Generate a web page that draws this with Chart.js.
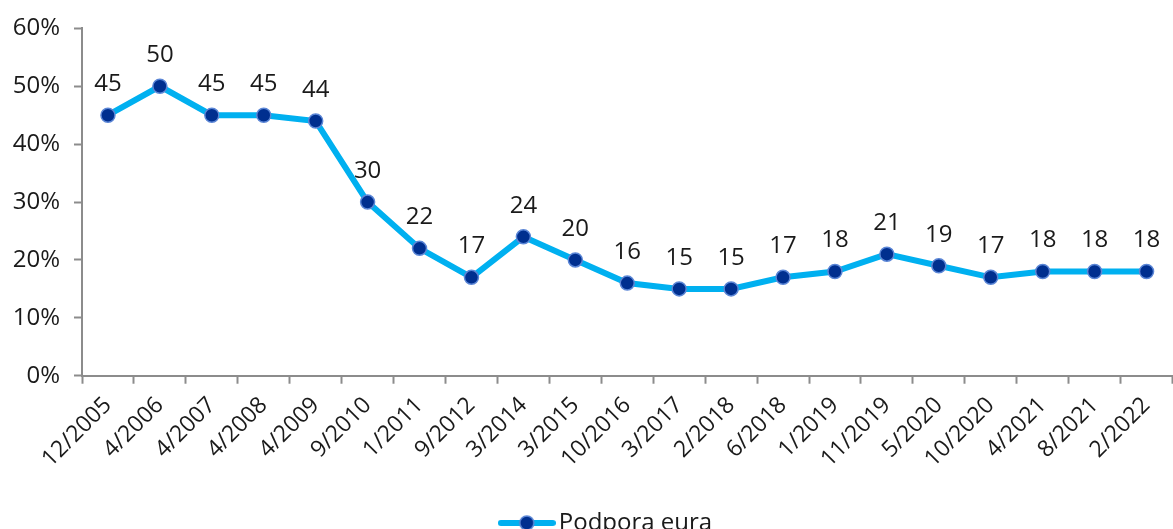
<!DOCTYPE html>
<html>
<head>
<meta charset="utf-8">
<script src="https://cdn.jsdelivr.net/npm/chart.js@4.4.0/dist/chart.umd.min.js"></script>
<style>
  html, body { margin: 0; padding: 0; background: #fff; overflow: hidden; }
  #wrap { width: 1181px; height: 545px; }
</style>
</head>
<body>
<div id="wrap"><canvas id="euroChart"></canvas></div>
<script>
// data
const periods = ['12/2005', '4/2006', '4/2007', '4/2008', '4/2009', '9/2010', '1/2011', '9/2012', '3/2014', '3/2015',
    '10/2016', '3/2017', '2/2018', '6/2018', '1/2019', '11/2019', '5/2020', '10/2020', '4/2021', '8/2021', '2/2022'];
const support = [45, 50, 45, 45, 44, 30, 22, 17, 24, 20, 16, 15, 15, 17, 18, 21, 19, 17, 18, 18, 18];
const yTicks = [0, 10, 20, 30, 40, 50, 60];

const fontFamily = "'Open Sans', 'Noto Sans', sans-serif";
const axisColor = '#8c8c8c';

// legend marker: line with a dot, like the excel one
const legendIcon = document.createElement('canvas');
legendIcon.width = 58;
legendIcon.height = 18;
(function () {
    const c = legendIcon.getContext('2d');
    c.strokeStyle = '#00b0f0';
    c.lineWidth = 6;
    c.lineCap = 'round';
    c.beginPath();
    c.moveTo(3, 9);
    c.lineTo(55, 9);
    c.stroke();
    c.beginPath();
    c.arc(29, 9, 7, 0, Math.PI * 2);
    c.fillStyle = '#002f8f';
    c.fill();
    c.lineWidth = 1.5;
    c.strokeStyle = '#5b86d6';
    c.stroke();
})();

// value labels above points
const valueLabels = {
    id: 'valueLabels',
    afterDatasetsDraw(chart) {
        const c = chart.ctx;
        const meta = chart.getDatasetMeta(0);
        c.save();
        c.font = '24px ' + fontFamily;
        c.fillStyle = '#1a1a1a';
        c.textAlign = 'center';
        c.textBaseline = 'middle';
        meta.data.forEach((pt, i) => {
            c.fillText(String(support[i]), pt.x, pt.y - 31);
        });
        c.restore();
    }
};

// legend sits a bit right of the center in the original
const nudgeLegend = {
    id: 'nudgeLegend',
    afterLayout(chart) {
        if (chart.legend) {
            chart.legend.left += 19;
            chart.legend.right += 19;
        }
    }
};

const ctx = document.getElementById('euroChart').getContext('2d');
new Chart(ctx, {
    type: 'line',
    data: {
        labels: periods,
        datasets: [{
            label: 'Podpora eura',
            data: support,
            borderColor: '#00b0f0',
            borderWidth: 6,
            pointRadius: 7,
            pointBackgroundColor: '#002f8f',
            pointBorderColor: '#5b86d6',
            pointBorderWidth: 1.5,
            tension: 0
        }]
    },
    options: {
        responsive: true,
        maintainAspectRatio: false,
        animation: false,
        layout: { padding: { top: 26, left: 0, right: 0, bottom: 0 } },
        scales: {
            x: {
                offset: true,
                grid: { offset: true, drawOnChartArea: false, tickLength: 8, tickColor: axisColor, tickWidth: 2 },
                border: { color: axisColor, width: 2 },
                ticks: {
                    color: '#1a1a1a',
                    font: { size: 23, family: fontFamily },
                    minRotation: 45,
                    maxRotation: 45,
                    autoSkip: false,
                    padding: 8
                }
            },
            y: {
                min: 0,
                max: 60,
                afterBuildTicks: (axis) => { axis.ticks = yTicks.map(v => ({ value: v })); },
                afterFit: (axis) => { axis.width = 82; },
                grid: { drawOnChartArea: false, tickLength: 8, tickColor: axisColor, tickWidth: 2 },
                border: { color: axisColor, width: 2 },
                ticks: {
                    color: '#1a1a1a',
                    font: { size: 24, family: fontFamily },
                    padding: 14,
                    callback: v => v + '%'
                }
            }
        },
        plugins: {
            legend: {
                position: 'bottom',
                labels: {
                    color: '#1a1a1a',
                    font: { size: 24, family: fontFamily },
                    usePointStyle: true,
                    pointStyleWidth: 40,
                    padding: 30,
                    generateLabels: (chart) => {
                        const items = Chart.defaults.plugins.legend.labels.generateLabels(chart);
                        items.forEach(it => { it.pointStyle = legendIcon; });
                        return items;
                    }
                }
            },
            tooltip: { enabled: false }
        }
    },
    plugins: [valueLabels, nudgeLegend]
});
</script>
</body>
</html>
